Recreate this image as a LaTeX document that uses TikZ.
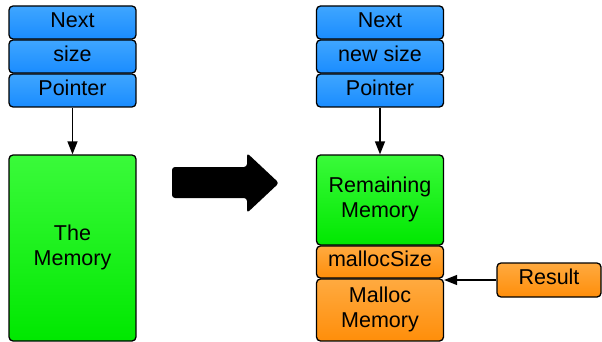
\documentclass[tikz,border=0pt]{standalone}
\usepackage{fontspec}
\setmainfont{Liberation Sans}
\usetikzlibrary{arrows.meta}
\definecolor{blueA}{HTML}{3FA6FF}
\definecolor{blueB}{HTML}{1A8CFF}
\definecolor{greenA}{HTML}{3AFA3A}
\definecolor{greenB}{HTML}{00E800}
\definecolor{orangeA}{HTML}{FFAA40}
\definecolor{orangeB}{HTML}{FF8E0A}
\newcommand\celltext[1]{\begin{tabular}{@{}c@{}}#1\end{tabular}}
\tikzset{
  cell/.style={draw=black, line width=1.3pt, rounded corners=4pt, inner sep=0pt,
    font=\fontsize{21.5}{24.5}\selectfont, text=black},
  bluecell/.style={cell, top color=blueA, bottom color=blueB, minimum width=127pt, minimum height=33pt},
  greencell/.style={cell, top color=greenA, bottom color=greenB, minimum width=127pt},
  orangecell/.style={cell, top color=orangeA, bottom color=orangeB, minimum width=127pt},
  link/.style={draw=black, line width=1.3pt, -{Triangle[length=13pt,width=10pt]}}
}
\begin{document}
\begin{tikzpicture}[x=1pt,y=-1pt]
\useasboundingbox (0,0) rectangle (602,342);
% left stack
\node[bluecell] (ln) at (72.5,22.5) {\celltext{Next}};
\node[bluecell] (ls) at (72.5,56.5) {\celltext{size}};
\node[bluecell] (lp) at (72.5,90.5) {\celltext{Pointer}};
\node[greencell, minimum height=186pt] (lm) at (72.5,248) {\celltext{The\\Memory}};
\draw[link] (lp.south) -- (lm.north);
% big arrow
\fill[black, rounded corners=3pt] (172,167) -- (247,167) -- (247,153) -- (279,183) -- (247,213) -- (247,198) -- (172,198) -- cycle;
% right stack
\node[bluecell] (rn) at (380,22.5) {\celltext{Next}};
\node[bluecell] (rs) at (380,56.5) {\celltext{new size}};
\node[bluecell] (rp) at (380,90.5) {\celltext{Pointer}};
\node[greencell, minimum height=90pt] (rr) at (380,200) {\celltext{Remaining\\Memory}};
\node[orangecell, minimum height=32pt] (rms) at (380,262) {\celltext{mallocSize}};
\node[orangecell, minimum height=62pt] (rmm) at (380,310) {\celltext{Malloc\\Memory}};
\draw[link] (rp.south) -- (rr.north);
% result
\node[cell, top color=orangeA, bottom color=orangeB, minimum width=104pt, minimum height=34pt] (res) at (549,280) {\celltext{Result}};
\draw[link] (res.west) -- (res.west -| rmm.east);
\end{tikzpicture}
\end{document}
